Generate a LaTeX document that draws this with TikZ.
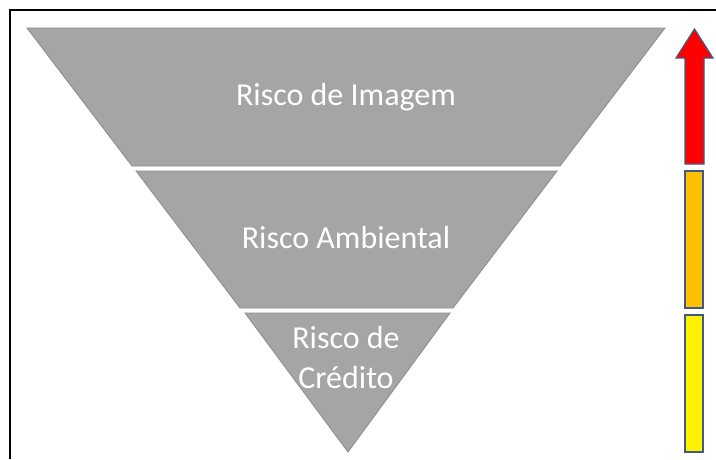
\documentclass[tikz,border=0pt]{standalone}
\usepackage{fontspec}
\setmainfont{Carlito}
\begin{document}
\begin{tikzpicture}[x=1pt,y=-1pt,
  layer/.style={fill=fillgray,draw=edgegray,line width=0.8pt,line join=miter},
  lbl/.style={text=white,font=\fontsize{32}{40}\selectfont,align=center,inner sep=0pt},
  bar/.style={draw=barblue,line width=1.2pt}]
\definecolor{fillgray}{HTML}{A5A5A5}
\definecolor{edgegray}{HTML}{8C8C8C}
\definecolor{barblue}{HTML}{3F5A86}
\definecolor{barorange}{HTML}{FFC000}
\useasboundingbox (0,0) rectangle (716,459);
\fill[white] (0,0) rectangle (716,459);
% frame (top and left visible)
\draw[black,line width=1.6pt] (10,459) -- (10,10) -- (716,10);
% layers
\draw[layer] (27,28) -- (665,28) -- (560,166) -- (132,166) -- cycle;
\draw[layer] (136,171) -- (557,171) -- (453,308) -- (240,308) -- cycle;
\draw[layer] (245,313) -- (450,313) -- (348,452) -- cycle;
% labels
\node[lbl] (img) at (346,97) {Risco de Imagem};
\node[lbl] (amb) at (346,238) {Risco Ambiental};
\node[lbl] (cred) at (346,358) {Risco de\\Crédito};
% bars
\draw[bar,fill=red,line join=miter] (685,164) -- (685,58) -- (676,58) -- (694.5,29) -- (713,58) -- (704,58) -- (704,164) -- cycle;
\draw[bar,fill=barorange] (685,171) rectangle (703,308);
\draw[bar,fill=yellow] (685,315) rectangle (703,452);
\end{tikzpicture}
\end{document}
